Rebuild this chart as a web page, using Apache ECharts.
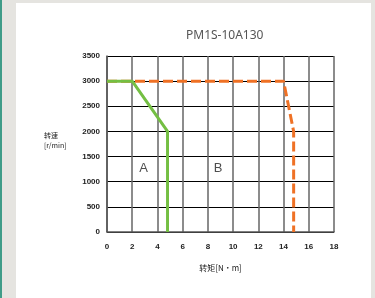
<!DOCTYPE html>
<html>
<head>
<meta charset="utf-8">
<script src="https://cdn.jsdelivr.net/npm/echarts@6/dist/echarts.min.js"></script>
<style>
  html, body { margin: 0; padding: 0; width: 375px; height: 298px; overflow: hidden; background: #e5e4e0; }
  .strip { position: absolute; left: 0; top: 0; width: 2px; height: 298px; background: #3f9c88; }
  .panel { position: absolute; left: 16px; top: 3px; width: 355px; height: 295px; background: #fff; }
  #chart { position: absolute; left: 0; top: 0; width: 375px; height: 298px; }
</style>
</head>
<body>
<div class="strip"></div>
<div class="panel"></div>
<div id="chart"></div>
<script>
  // 转矩 [N·m] / 转速 [r/min]
  const xTicks = [0, 2, 4, 6, 8, 10, 12, 14, 16, 18]
  const yTicks = [0, 500, 1000, 1500, 2000, 2500, 3000, 3500]
  // A 区：连续运行
  const curveA = [[0, 3000], [2, 3000], [4.8, 2000], [4.8, 0]]
  // B 区：短时运行
  const curveB = [[0, 3000], [14, 3000], [14.8, 2000], [14.8, 0]]
  const regionLabels = [['A', 2.9, 1270], ['B', 8.8, 1270]]

  const labelFont = {
    color: '#222', fontSize: 8, fontWeight: 'bold', fontFamily: 'Liberation Sans',
    formatter: v => String(v)
  }

  let chart = echarts.init(document.getElementById('chart'))
  chart.setOption({
    animation: false,
    title: {
      text: 'PM1S-10A130',
      left: 181,
      top: 25,
      textStyle: { color: '#555', fontSize: 12, fontWeight: 'normal', fontFamily: 'Noto Sans' }
    },
    grid: { left: 107, right: 41, top: 56, bottom: 66 },
    xAxis: {
      type: 'value',
      min: xTicks[0],
      max: xTicks[xTicks.length - 1],
      interval: 2,
      name: '转矩[N·m]',
      nameLocation: 'middle',
      nameGap: 32,
      nameTextStyle: { color: '#222', fontSize: 8, fontFamily: 'Noto Sans CJK SC' },
      axisLine: { lineStyle: { color: '#555', width: 1.5 } },
      axisTick: { show: false },
      axisLabel: Object.assign({ margin: 11 }, labelFont),
      splitLine: { show: true, lineStyle: { color: '#666', width: 1.5 } }
    },
    yAxis: {
      type: 'value',
      min: yTicks[0],
      max: yTicks[yTicks.length - 1],
      interval: 500,
      axisLine: { show: true, lineStyle: { color: '#555', width: 1.5 } },
      axisTick: { show: false },
      axisLabel: Object.assign({ margin: 7 }, labelFont),
      splitLine: { show: true, lineStyle: { color: '#000', width: 1 } }
    },
    graphic: [
      {
        type: 'text',
        left: 44,
        top: 130,
        style: { text: '转速\n[r/min]', fill: '#222', font: '7px "Noto Sans CJK SC"', lineHeight: 10 }
      }
    ],
    series: [
      {
        name: 'B',
        type: 'line',
        data: curveB,
        symbol: 'none',
        lineStyle: { color: '#ef7125', width: 3, type: [10, 4] },
        z: 3
      },
      {
        name: 'A',
        type: 'line',
        data: curveA,
        symbol: 'none',
        lineStyle: { color: '#74bf43', width: 3 },
        z: 4
      },
      {
        type: 'scatter',
        symbolSize: 0,
        data: regionLabels.map(r => ({ value: [r[1], r[2]], name: r[0] })),
        label: {
          show: true,
          position: 'inside',
          formatter: '{b}',
          color: '#222',
          fontSize: 13,
          fontFamily: 'Liberation Sans'
        },
        z: 5
      }
    ]
  })
</script>
</body>
</html>
